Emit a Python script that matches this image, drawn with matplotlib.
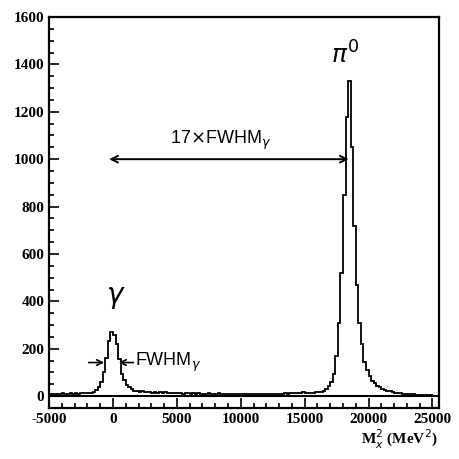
import matplotlib
matplotlib.use("Agg")
import matplotlib.pyplot as plt
import numpy as np
from matplotlib.ticker import MultipleLocator

plt.rcParams["axes.unicode_minus"] = False

# missing-mass squared histogram, 200 MeV^2 bins from -5000 to 25000
BIN_LO = -5000
BIN_W = 200
counts = [
    8, 10, 9, 11, 10, 12, 9, 11, 13, 10,          # -5000 .. -3000
    12, 11, 13, 12, 12, 13, 14, 17, 25, 38,       # -3000 .. -1000
    62, 100, 160, 235, 272, 260, 222, 155, 95, 68,  # -1000 .. 1000  (gamma)
    48, 37, 30, 24, 20, 17, 22, 18, 16, 19,       # 1000 .. 3000
    15, 17, 14, 18, 13, 16, 15, 12, 14, 13,       # 3000 .. 5000
    12, 14, 11, 13, 12, 10, 12, 11, 13, 10,       # 5000 .. 7000
    11, 10, 12, 9, 11, 10, 12, 9, 10, 11,         # 7000 .. 9000
    10, 9, 11, 10, 8, 10, 9, 11, 10, 9,           # 9000 .. 11000
    10, 9, 8, 10, 9, 11, 10, 9, 10, 11,           # 11000 .. 13000
    10, 11, 12, 11, 13, 12, 14, 13, 15, 16,       # 13000 .. 15000
    13, 14, 15, 14, 16, 17, 19, 23, 30, 42,       # 15000 .. 17000
    58, 92, 170, 310, 520, 850, 1180, 1330, 1050, 720,  # 17000 .. 19000 (pi0)
    470, 310, 220, 145, 110, 85, 65, 55, 45, 38,  # 19000 .. 21000
    32, 27, 23, 20, 17, 15, 13, 12, 11, 10,       # 21000 .. 23000
    9, 8, 8, 7, 7, 6, 6, 5, 5, 4,                 # 23000 .. 25000
]
edges = BIN_LO + BIN_W * np.arange(len(counts) + 1)

x_ticks = [-5000, 0, 5000, 10000, 15000, 20000, 25000]
y_ticks = [0, 200, 400, 600, 800, 1000, 1200, 1400, 1600]

fig = plt.figure(figsize=(4.59, 4.59), dpi=100)
ax = fig.add_axes([0.107, 0.111, 0.849, 0.852])

ax.stairs(counts, edges, color="black", lw=1.3)
ax.axhline(0, color="black", lw=1.5)

ax.set_xlim(-5000, 25500)
ax.set_ylim(-50, 1600)
ax.set_xticks(x_ticks)
ax.set_yticks(y_ticks)
ax.xaxis.set_minor_locator(MultipleLocator(1000))
ax.yaxis.set_minor_locator(MultipleLocator(50))
ax.tick_params(which="both", direction="in", top=False, right=False,
               width=1.2, labelsize=11)
ax.tick_params(which="major", length=7)
ax.tick_params(which="minor", length=3.5)
for lab in ax.get_xticklabels() + ax.get_yticklabels():
    lab.set_family("Liberation Serif")
    lab.set_fontweight("bold")
for s in ax.spines.values():
    s.set_linewidth(1.6)

# peak labels
ax.text(250, 420, r"$\gamma$", fontsize=20, ha="center", va="center")
ax.text(18200, 1440, r"$\pi^0$", fontsize=18, ha="center", va="center")

# 17 x FWHM arrow
ax.annotate("", xy=(18450, 1000), xytext=(-300, 1000),
            arrowprops=dict(arrowstyle="<->", color="black", lw=1.4,
                            shrinkA=0, shrinkB=0, mutation_scale=12))
ax.text(8400, 1080, r"17$\times$FWHM$_\gamma$", fontsize=13,
        ha="center", va="center", family="Liberation Sans")

# FWHM arrows at gamma peak
ax.annotate("", xy=(-700, 142), xytext=(-1900, 142),
            arrowprops=dict(arrowstyle="->", color="black", lw=1.2,
                            shrinkA=0, shrinkB=0, mutation_scale=10))
ax.annotate("", xy=(450, 142), xytext=(1600, 142),
            arrowprops=dict(arrowstyle="->", color="black", lw=1.2,
                            shrinkA=0, shrinkB=0, mutation_scale=10))
ax.text(1750, 142, r"FWHM$_\gamma$", fontsize=13, ha="left", va="center",
        family="Liberation Sans")

# x axis label
fig.text(0.87, 0.018, r"M$_x^2$ (MeV$^2$)", fontsize=11, ha="center",
         va="bottom", family="Liberation Serif", fontweight="bold")

fig.savefig("out.png", dpi=100)
